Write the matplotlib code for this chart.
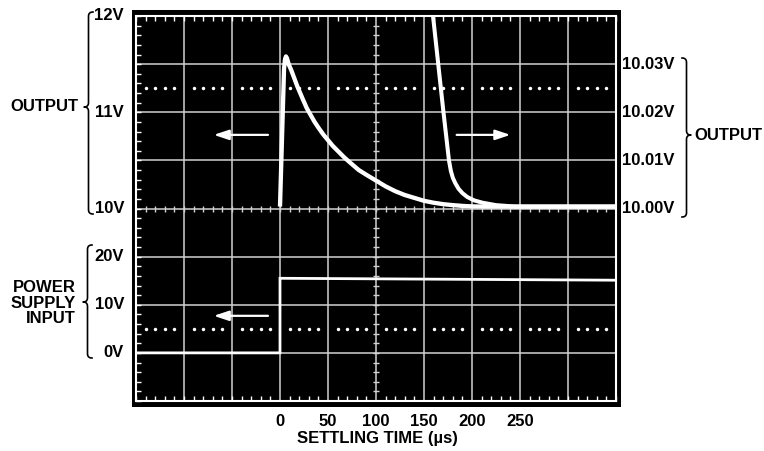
import matplotlib
matplotlib.use('Agg')
import matplotlib.pyplot as plt
import numpy as np
from matplotlib.patches import Rectangle, FancyArrowPatch
from matplotlib.lines import Line2D
from matplotlib.ticker import MultipleLocator

plt.rcParams['font.family'] = ['Liberation Sans', 'DejaVu Sans']
plt.rcParams['font.weight'] = 'bold'
plt.rcParams['font.size'] = 12

# output, coarse scale (left, 0.5 V/div)
t_coarse = [0, 4.2, 5.2, 6.2, 7.3, 9, 12, 15, 18, 21, 24, 28, 32, 36, 40, 45, 50, 55, 60, 67,
            75, 82, 90, 100, 110, 120, 130, 140, 150, 160, 170, 180, 190, 200, 215, 350]
v_coarse = [10.02, 11.45, 11.55, 11.58, 11.56, 11.5, 11.43, 11.35, 11.27, 11.2, 11.13, 11.04,
            10.97, 10.9, 10.84, 10.77, 10.71, 10.65, 10.6, 10.53, 10.46, 10.4, 10.35, 10.29,
            10.23, 10.18, 10.14, 10.11, 10.08, 10.06, 10.045, 10.035, 10.027, 10.022, 10.02, 10.02]
# output, fine scale (right, 10 mV/div)
t_fine = [157, 170, 176, 178, 180, 182.5, 186, 190, 195, 202, 211, 225, 245, 350]
v_fine = [10.0444, 10.0205, 10.010, 10.0078, 10.0064, 10.0053, 10.0041, 10.0032, 10.0024,
          10.0017, 10.0012, 10.0007, 10.0004, 10.0004]
# power supply input (10 V/div)
t_supply = [-150, 0, 0, 350]
v_supply = [0, 0, 15.5, 15.1]

x_ticks = [0, 50, 100, 150, 200, 250]
left_out_labels = [12, 11, 10]
right_out_labels = [10.03, 10.02, 10.01, 10.00]
supply_labels = [20, 10, 0]

W, H = 764, 451
fig = plt.figure(figsize=(W / 100, H / 100), dpi=100)


def fx(px):
    return px / W


def fy(py):
    return 1 - py / H


# black bezel
fig.add_artist(Rectangle((fx(132), fy(407)), (621 - 132) / W, (407 - 10) / H,
                         transform=fig.transFigure, facecolor='black', edgecolor='none', zorder=-1))

ax = fig.add_axes([fx(136), fy(401), 480 / W, 385 / H])
ax.set_facecolor('black')
ax.set_xlim(-150, 350)
ax.set_ylim(0, 8)
for s in ax.spines.values():
    s.set_color('white')
    s.set_linewidth(1.5)

# graticule
grid_c = '#d2d2d2'
for gx in np.arange(-100, 350, 50):
    ax.axvline(gx, color=grid_c, lw=1.1, zorder=1)
for gy in range(1, 8):
    ax.axhline(gy, color=grid_c, lw=1.1, zorder=1)

ax.set_xticks(x_ticks)
ax.set_xticklabels([str(v) for v in x_ticks])
ax.set_yticks([])
ax.xaxis.set_minor_locator(MultipleLocator(10))
ax.yaxis.set_minor_locator(MultipleLocator(0.2))
ax.tick_params(which='major', length=0, pad=9, labelsize=12)
ax.tick_params(which='minor', direction='in', length=3.5, width=1, color='white',
               top=True, right=True, left=True, bottom=True)

# center cross ticks
mx = np.arange(-140, 350, 10)
ax.plot(mx, np.full(len(mx), 4.0), ls='none', marker='|', ms=5, mew=1, color=grid_c, zorder=1)
my = np.arange(0.2, 8, 0.2)
ax.plot(np.full(len(my), 100.0), my, ls='none', marker='_', ms=5, mew=1, color=grid_c, zorder=1)

# dotted reference lines
dx = np.array([t for t in np.arange(-140, 350, 10) if t % 50 != 0])
for dy in (6.5, 1.5):
    ax.plot(dx, np.full(len(dx), dy), ls='none', marker='o', ms=2.5, mew=0, color='white', zorder=2)

# arrows
for (x0, x1, yy) in [(-12.5, -69, 5.53), (184, 240, 5.53), (-12.5, -69, 1.77)]:
    ax.add_patch(FancyArrowPatch((x0, yy), (x1, yy), arrowstyle='-|>,head_length=9,head_width=3',
                                 mutation_scale=1, color='white', lw=1.6, shrinkA=0, shrinkB=0,
                                 zorder=3))

ax_c = ax.twinx()
ax_c.set_ylim(8, 12)
ax_f = ax.twinx()
ax_f.set_ylim(9.96, 10.04)
ax_s = ax.twinx()
ax_s.set_ylim(-10, 70)
for a in (ax_c, ax_f, ax_s):
    a.set_yticks([])
    a.tick_params(which='both', length=0)
    for s in a.spines.values():
        s.set_visible(False)

ax_s.plot(t_supply, v_supply, color='white', lw=2, solid_joinstyle='miter')
ax_c.plot(t_coarse, v_coarse, color='white', lw=3.1, solid_capstyle='butt', solid_joinstyle='round')
ax_f.plot(t_fine, v_fine, color='white', lw=2.9, solid_capstyle='butt', solid_joinstyle='round')

# scale labels
lx = -0.025
for v in left_out_labels:
    ax.text(lx, v, f'{v}V', transform=ax_c.get_yaxis_transform(), ha='right', va='center')
for v in supply_labels:
    ax.text(lx, v, f'{v}V', transform=ax_s.get_yaxis_transform(), ha='right', va='center')
for v in right_out_labels:
    ax.text(1.0125, v, f'{v:.2f}V', transform=ax_f.get_yaxis_transform(), ha='left', va='center',
            clip_on=False)

fig.text(fx(78), fy(106), 'OUTPUT', ha='right', va='center')
fig.text(fx(694), fy(136), 'OUTPUT', ha='left', va='center')
fig.text(fx(76), fy(303), 'POWER\nSUPPLY\nINPUT', ha='right', va='center', multialignment='right',
         linespacing=1.05)
fig.text(fx(377), fy(439), 'SETTLING TIME (µs)', ha='center', va='center')


def bezier(p0, p1, p2, n=12):
    tt = np.linspace(0, 1, n)
    xs = (1 - tt) ** 2 * p0[0] + 2 * (1 - tt) * tt * p1[0] + tt ** 2 * p2[0]
    ys = (1 - tt) ** 2 * p0[1] + 2 * (1 - tt) * tt * p1[1] + tt ** 2 * p2[1]
    return list(zip(xs, ys))


def brace(xe, y_top, y_bot, y_tip, w, s):
    # s=+1 -> '{', s=-1 -> '}'
    pts = []
    pts += bezier((xe + s * w, y_top), (xe, y_top), (xe, y_top + w))
    pts += bezier((xe, y_tip - w), (xe, y_tip), (xe - s * w, y_tip))
    pts += bezier((xe - s * w, y_tip), (xe, y_tip), (xe, y_tip + w))
    pts += bezier((xe, y_bot - w), (xe, y_bot), (xe + s * w, y_bot))
    xs = [fx(p[0]) for p in pts]
    ys = [fy(p[1]) for p in pts]
    fig.add_artist(Line2D(xs, ys, transform=fig.transFigure, color='black', lw=1.2))


brace(88.5, 12, 214, 107, 4.5, 1)
brace(87.5, 245, 358, 302, 4.5, 1)
brace(686.5, 58, 217, 135, 4.5, -1)

fig.savefig('out.png', dpi=100, facecolor='white')
